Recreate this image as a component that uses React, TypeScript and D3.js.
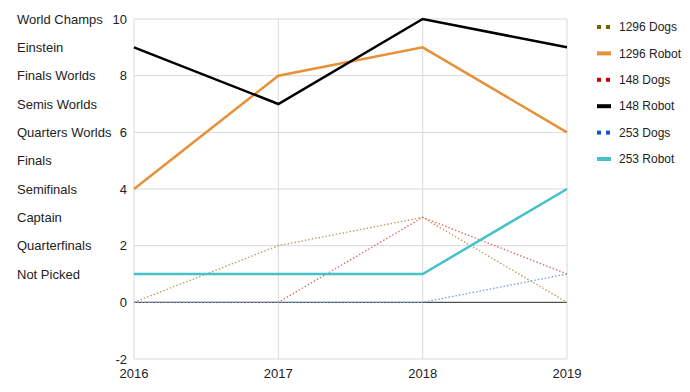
import React, { useRef, useEffect } from "react";
import * as d3 from "d3";

const years = ["2016", "2017", "2018", "2019"];
const levelLabels = [
  "World Champs",
  "Einstein",
  "Finals Worlds",
  "Semis Worlds",
  "Quarters Worlds",
  "Finals",
  "Semifinals",
  "Captain",
  "Quarterfinals",
  "Not Picked",
];
const levelValues = [10, 9, 8, 7, 6, 5, 4, 3, 2, 1];
const yTicks = [-2, 0, 2, 4, 6, 8, 10];

const seriesNames = ["1296 Dogs", "1296 Robot", "148 Dogs", "148 Robot", "253 Dogs", "253 Robot"];
const dogs1296 = [0, 2, 3, 0];
const robot1296 = [4, 8, 9, 6];
const dogs148 = [0, 0, 3, 1];
const robot148 = [9, 7, 10, 9];
const dogs253 = [0, 0, 0, 1];
const robot253 = [1, 1, 1, 4];

const App = () => {
  const ref = useRef<SVGSVGElement>(null);

  useEffect(() => {
    const svg = d3.select(ref.current);
    svg.selectAll("*").remove();

    const font = "'Liberation Sans', Arial, sans-serif";
    const series = [
      { name: seriesNames[0], values: dogs1296, color: "#7f6000", lineColor: "#b89a5a", dotted: true },
      { name: seriesNames[1], values: robot1296, color: "#e69138", lineColor: "#e69138", dotted: false },
      { name: seriesNames[2], values: dogs148, color: "#cc0000", lineColor: "#e06666", dotted: true },
      { name: seriesNames[3], values: robot148, color: "#000000", lineColor: "#000000", dotted: false },
      { name: seriesNames[4], values: dogs253, color: "#1155cc", lineColor: "#6d9eeb", dotted: true },
      { name: seriesNames[5], values: robot253, color: "#45c1c8", lineColor: "#45c1c8", dotted: false },
    ];

    const x = d3.scalePoint().domain(years).range([134, 567]);
    const y = d3.scaleLinear().domain([-2, 10]).range([359, 19]);

    // grid
    svg.append("g")
      .selectAll("line")
      .data(yTicks)
      .enter()
      .append("line")
      .attr("x1", 134)
      .attr("x2", 567)
      .attr("y1", (d) => y(d))
      .attr("y2", (d) => y(d))
      .attr("stroke", "#d9d9d9")
      .attr("stroke-width", 1);

    svg.append("g")
      .selectAll("line")
      .data(years)
      .enter()
      .append("line")
      .attr("x1", (d) => x(d)!)
      .attr("x2", (d) => x(d)!)
      .attr("y1", y(10))
      .attr("y2", y(-2))
      .attr("stroke", "#d9d9d9")
      .attr("stroke-width", 1);

    // baseline
    svg.append("line")
      .attr("x1", 134)
      .attr("x2", 567)
      .attr("y1", y(0))
      .attr("y2", y(0))
      .attr("stroke", "#333333")
      .attr("stroke-width", 1);

    // y tick labels
    svg.append("g")
      .selectAll("text")
      .data(yTicks)
      .enter()
      .append("text")
      .attr("x", 127)
      .attr("y", (d) => y(d))
      .attr("dy", "0.35em")
      .attr("text-anchor", "end")
      .attr("font-family", font)
      .attr("font-size", 13)
      .attr("fill", "#222")
      .text((d) => d);

    // level labels
    svg.append("g")
      .selectAll("text")
      .data(levelLabels)
      .enter()
      .append("text")
      .attr("x", 17)
      .attr("y", (d, i) => y(levelValues[i]))
      .attr("dy", "0.35em")
      .attr("font-family", font)
      .attr("font-size", 13)
      .attr("fill", "#222")
      .text((d) => d);

    // x labels
    svg.append("g")
      .selectAll("text")
      .data(years)
      .enter()
      .append("text")
      .attr("x", (d) => x(d)!)
      .attr("y", 373)
      .attr("dy", "0.35em")
      .attr("text-anchor", "middle")
      .attr("font-family", font)
      .attr("font-size", 13)
      .attr("fill", "#222")
      .text((d) => d);

    // lines
    const line = d3
      .line<number>()
      .x((d, i) => x(years[i])!)
      .y((d) => y(d));

    series.forEach((s) => {
      svg.append("path")
        .datum(s.values)
        .attr("d", line)
        .attr("fill", "none")
        .attr("stroke", s.lineColor)
        .attr("stroke-width", s.dotted ? 1.3 : 2.5)
        .attr("stroke-dasharray", s.dotted ? "1.5,2" : null);
    });

    // legend
    const legend = svg.append("g");
    series.forEach((s, i) => {
      const ly = 27 + i * 26.4;
      if (s.dotted) {
        legend.append("rect").attr("x", 597).attr("y", ly - 2).attr("width", 4).attr("height", 4).attr("fill", s.color);
        legend.append("rect").attr("x", 606).attr("y", ly - 2).attr("width", 4).attr("height", 4).attr("fill", s.color);
      } else {
        legend.append("rect").attr("x", 597).attr("y", ly - 2).attr("width", 14).attr("height", 4).attr("fill", s.color);
      }
      legend.append("text")
        .attr("x", 619)
        .attr("y", ly)
        .attr("dy", "0.35em")
        .attr("font-family", font)
        .attr("font-size", 12)
        .attr("fill", "#222")
        .text(s.name);
    });
  }, []);

  return <svg ref={ref} width={690} height={392} style={{ display: "block", position: "absolute", left: 0, top: 0 }} />;
};

export default App;
